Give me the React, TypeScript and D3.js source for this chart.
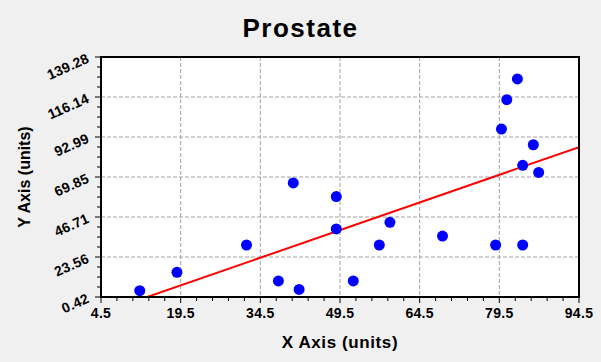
import { useEffect, useRef } from 'react'
import * as d3 from 'd3'

// values
const xValues = [11.8, 18.8, 31.9, 37.9, 40.7, 41.8, 48.8, 48.8, 52.0, 56.9, 58.9, 68.8, 78.8, 79.9, 80.9, 82.9, 83.9, 83.9, 85.9, 86.9]
const yValues = [4.1, 14.7, 30.5, 9.7, 66.4, 4.8, 58.5, 39.8, 9.7, 30.5, 43.6, 35.7, 30.5, 97.6, 114.6, 126.6, 76.6, 30.5, 88.5, 72.5]

const xTicks = [4.5, 19.5, 34.5, 49.5, 64.5, 79.5, 94.5]
const xTickLabels = ['4.5', '19.5', '34.5', '49.5', '64.5', '79.5', '94.5']
const yTicks = [0.42, 23.563, 46.706, 69.849, 92.992, 116.135, 139.278]
const yTickLabels = ['0.42', '23.56', '46.71', '69.85', '92.99', '116.14', '139.28']

const title = 'Prostate'
const xTitle = 'X Axis (units)'
const yTitle = 'Y Axis (units)'

const WIDTH = 601
const HEIGHT = 362
const FONT = '"Liberation Sans", Arial, sans-serif'

export default function App() {
  const svgRef = useRef<SVGSVGElement>(null)

  useEffect(() => {
    if (!svgRef.current) return
    document.body.style.margin = '0'

    const svg = d3.select(svgRef.current)
    svg.selectAll('*').remove()

    const margin = { top: 57, right: 22, bottom: 65, left: 101 }
    const innerWidth = WIDTH - margin.left - margin.right
    const innerHeight = HEIGHT - margin.top - margin.bottom

    svg.append('rect')
      .attr('width', WIDTH)
      .attr('height', HEIGHT)
      .attr('fill', '#f0f0f0')

    const x = d3.scaleLinear().domain([4.5, 94.5]).range([0, innerWidth])
    const y = d3.scaleLinear().domain([0.42, 139.278]).range([innerHeight, 0])

    const g = svg.append('g')
      .attr('transform', `translate(${margin.left},${margin.top})`)

    svg.append('defs').append('clipPath')
      .attr('id', 'plot-clip')
      .append('rect')
      .attr('width', innerWidth)
      .attr('height', innerHeight)

    g.append('rect')
      .attr('width', innerWidth)
      .attr('height', innerHeight)
      .attr('fill', '#ffffff')

    // grid
    g.selectAll('.vgrid')
      .data(xTicks.slice(1, -1))
      .enter().append('line')
      .attr('x1', d => x(d)).attr('x2', d => x(d))
      .attr('y1', 0).attr('y2', innerHeight)
      .attr('stroke', '#a0a0a0')
      .attr('stroke-dasharray', '4,2')

    g.selectAll('.hgrid')
      .data(yTicks.slice(1, -1))
      .enter().append('line')
      .attr('x1', 0).attr('x2', innerWidth)
      .attr('y1', d => y(d)).attr('y2', d => y(d))
      .attr('stroke', '#a0a0a0')
      .attr('stroke-dasharray', '4,2')

    // minor ticks
    const xMinor = d3.range(0, 31).map(i => 4.5 + i * 3)
    g.selectAll('.xtick')
      .data(xMinor)
      .enter().append('line')
      .attr('x1', d => x(d)).attr('x2', d => x(d))
      .attr('y1', innerHeight)
      .attr('y2', (d, i) => innerHeight + (i % 5 === 0 ? 6 : 4))
      .attr('stroke', '#000')

    const yStep = (yTicks[1] - yTicks[0]) / 4
    const yMinor = d3.range(0, 25).map(i => yTicks[0] + i * yStep)
    g.selectAll('.ytick')
      .data(yMinor)
      .enter().append('line')
      .attr('y1', d => y(d)).attr('y2', d => y(d))
      .attr('x1', 0)
      .attr('x2', (d, i) => (i % 4 === 0 ? -6 : -4))
      .attr('stroke', '#000')

    // regression line from the points
    const n = xValues.length
    const mx = d3.mean(xValues) as number
    const my = d3.mean(yValues) as number
    const sxy = d3.sum(xValues, (v, i) => (v - mx) * (yValues[i] - my))
    const sxx = d3.sum(xValues, v => (v - mx) ** 2)
    const slope = sxy / sxx
    const intercept = my - slope * mx
    const fit = x.domain().map(v => [v, intercept + slope * v] as [number, number])

    g.append('path')
      .datum(fit)
      .attr('clip-path', 'url(#plot-clip)')
      .attr('fill', 'none')
      .attr('stroke', '#ff0000')
      .attr('stroke-width', 2)
      .attr('d', d3.line<[number, number]>().x(d => x(d[0])).y(d => y(d[1])))

    // points
    g.selectAll('.point')
      .data(d3.range(n))
      .enter().append('circle')
      .attr('cx', i => x(xValues[i]))
      .attr('cy', i => y(yValues[i]))
      .attr('r', 5.5)
      .attr('fill', '#0000ff')

    // frame
    g.append('rect')
      .attr('width', innerWidth)
      .attr('height', innerHeight)
      .attr('fill', 'none')
      .attr('stroke', '#000')
      .attr('stroke-width', 2)

    // tick labels
    g.selectAll('.xlabel')
      .data(xTicks)
      .enter().append('text')
      .attr('x', d => x(d))
      .attr('y', innerHeight + 21)
      .attr('text-anchor', 'middle')
      .style('font', `bold 14px ${FONT}`)
      .style('letter-spacing', '0.3px')
      .text((d, i) => xTickLabels[i])

    g.selectAll('.ylabel')
      .data(yTicks)
      .enter().append('text')
      .attr('transform', d => `translate(-11,${y(d) + 5}) rotate(-24)`)
      .attr('text-anchor', 'end')
      .style('font', `bold 14px ${FONT}`)
      .style('letter-spacing', '0.2px')
      .text((d, i) => yTickLabels[i])

    // titles
    svg.append('text')
      .attr('x', WIDTH / 2)
      .attr('y', 37)
      .attr('text-anchor', 'middle')
      .style('font', `bold 26px ${FONT}`)
      .style('letter-spacing', '1.5px')
      .text(title)

    svg.append('text')
      .attr('x', margin.left + innerWidth / 2)
      .attr('y', 348)
      .attr('text-anchor', 'middle')
      .style('font', `bold 17px ${FONT}`)
      .style('letter-spacing', '0.6px')
      .text(xTitle)

    svg.append('text')
      .attr('transform', `translate(30,${margin.top + innerHeight / 2}) rotate(-90)`)
      .attr('text-anchor', 'middle')
      .style('font', `bold 16px ${FONT}`)
      .text(yTitle)
  }, [])

  return <svg ref={svgRef} width={WIDTH} height={HEIGHT} style={{ display: 'block' }} />
}
